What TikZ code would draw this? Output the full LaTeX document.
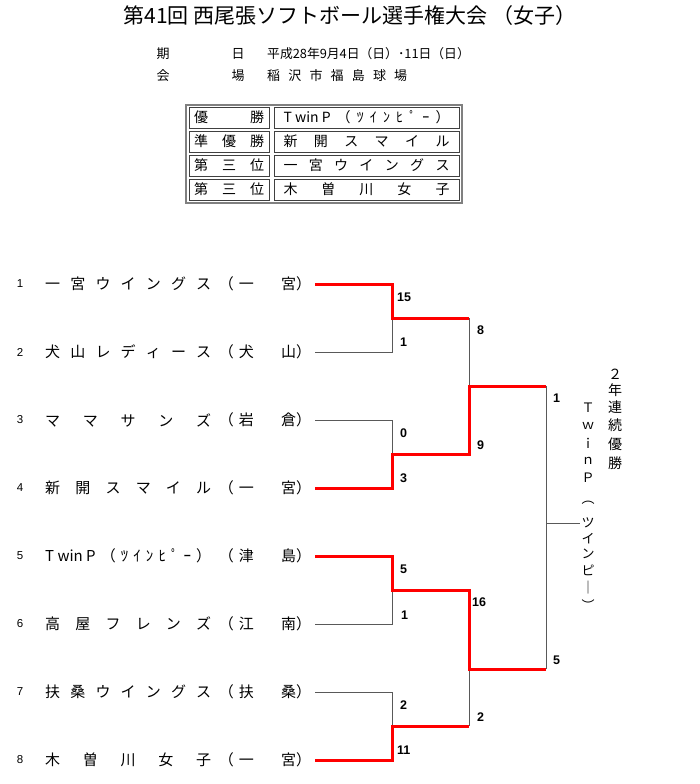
\documentclass[tikz,border=0pt]{standalone}
\usepackage{fontspec}
\setmainfont{Liberation Sans}
\newfontfamily\jp{Noto Sans CJK JP}
\usetikzlibrary{positioning}
\newcommand{\fs}[1]{\fontsize{#1}{#1}\selectfont}

\begin{document}
\begin{tikzpicture}[x=1pt,y=-1pt,
  win/.style={red,line width=3pt},
  lose/.style={black!65,line width=1pt},
  score/.style={font=\fs{12.5}\bfseries,anchor=west,inner sep=0pt},
  jtext/.style={font=\jp\fs{15},inner sep=0pt},
  cell/.style={draw=black!75,line width=0.8pt,minimum height=21pt,inner sep=0pt,font=\jp\fs{14}},
  vtext/.style={font=\jp\fs{14},inner sep=0pt}]
\useasboundingbox (0,0) rectangle (700,784);

\node[font=\jp\fs{21},inner sep=0pt] (title) at (350,16) {第41回 西尾張ソフトボール選手権大会 （女子）};
\node[jtext,font=\jp\fs{13}] (kiLab) at (163,54) {期};
\node[jtext,font=\jp\fs{13}] (hiLab) at (238,54) {日};
\node[jtext,font=\jp\fs{12.8},anchor=west] (date) at (267,54) {平成28年9月4日（日）･11日（日）};
\node[jtext,font=\jp\fs{13}] (kaiLab) at (163,76) {会};
\node[jtext,font=\jp\fs{13}] (joLab) at (238,76) {場};
\node[jtext,font=\jp\fs{13},anchor=west] (venue) at (267,76) {\makebox[140pt]{稲\hfill 沢\hfill 市\hfill 福\hfill 島\hfill 球\hfill 場}};

% Result table.
\draw[gray,line width=1.5pt] (186,105) rectangle (462,203);
\foreach \lab/\team [count=\i] in {
  {優\hfill 勝}/{T win P\hfill（\hfill ﾂ\hfill ｲ\hfill ﾝ\hfill ﾋ\hfill ﾟ\hfill ｰ\hfill ）},
  {準\hfill 優\hfill 勝}/{新\hfill 開\hfill ス\hfill マ\hfill イ\hfill ル},
  {第\hfill 三\hfill 位}/{一\hfill 宮\hfill ウ\hfill イ\hfill ン\hfill グ\hfill ス},
  {第\hfill 三\hfill 位}/{木\hfill 曽\hfill 川\hfill 女\hfill 子}}{
  \node[cell,minimum width=80pt] (rank\i) at (229,117.5+24*\i-24) {\makebox[70pt]{\lab}};
  \node[cell,minimum width=185pt] (place\i) at (366.5,117.5+24*\i-24) {\makebox[166pt]{\team}};
}

% Teams.
\foreach \y/\n/\name/\ca/\cb in {
  284/1/{一\hfill 宮\hfill ウ\hfill イ\hfill ン\hfill グ\hfill ス}/一/宮,
  352/2/{犬\hfill 山\hfill レ\hfill デ\hfill ィ\hfill ー\hfill ス}/犬/山,
  420/3/{マ\hfill マ\hfill サ\hfill ン\hfill ズ}/岩/倉,
  488/4/{新\hfill 開\hfill ス\hfill マ\hfill イ\hfill ル}/一/宮,
  556/5/{T win P\hfill（\hfill ﾂ\hfill ｲ\hfill ﾝ\hfill ﾋ\hfill ﾟ\hfill ｰ\hfill ）}/津/島,
  624/6/{高\hfill 屋\hfill フ\hfill レ\hfill ン\hfill ズ}/江/南,
  692/7/{扶\hfill 桑\hfill ウ\hfill イ\hfill ン\hfill グ\hfill ス}/扶/桑,
  760/8/{木\hfill 曽\hfill 川\hfill 女\hfill 子}/一/宮}{
  \node[font=\fs{11.5},inner sep=0pt] (num\n) at (20,\y) {\n};
  \node[jtext,anchor=west] (team\n) at (45,\y) {\makebox[166pt]{\name}};
  \node[jtext,anchor=east] (ca\n) at (254,\y) {（\hspace{5pt}\ca};
  \node[jtext,anchor=west] (cb\n) at (281,\y) {\cb）};
  \coordinate (t\n) at (315,\y);
}

\coordinate (q1) at (392,318);
\coordinate (q2) at (392,454);
\coordinate (q3) at (392,590);
\coordinate (q4) at (392,726);
\coordinate (h1) at (469,386);
\coordinate (h2) at (469,669);
\coordinate (f1) at (546,386);
\coordinate (f2) at (546,669);
\coordinate (fm) at (546,523);
\coordinate (fe) at (580,523);

\draw[lose] (t2) -| (q1);
\draw[lose] (t3) -| (q2);
\draw[lose] (t6) -| (q3);
\draw[lose] (t7) -| (q4);
\draw[lose] (q1 -| h1) -- (h1);
\draw[lose] (q4 -| h2) -- (h2);
\draw[lose] (f1) -- (f2);
\draw[lose] (fm) -- (fe);

\draw[win] (t1) -| (q1) -- (q1 -| h1);
\draw[win] (t4) -| (q2) -- (q2 -| h1) -- (h1) -- (f1);
\draw[win] (t5) -| (q3) -- (q3 -| h2) -- (h2) -- (f2);
\draw[win] (t8) -| (q4) -- (q4 -| h2);

% Scores.
\foreach \x/\y/\s [count=\i] in {397/297/15,400/342/1,477/330/8,400/433/0,477/445/9,400/478/3,553/398/1,
  400/569/5,401/615/1,472/602/16,400/705/2,477/717/2,397/750/11,553/660/5}
  \node[score] (s\i) at (\x,\y) {\s};

% Champion, vertical.
\foreach \c/\y [count=\i] in {２/374,年/390,連/407,続/425,優/444,勝/463}
  \node[vtext] (streak\i) at (615,\y) {\c};
\foreach \c/\y [count=\i] in {Ｔ/408,ｗ/426,ｉ/443,ｎ/461,Ｐ/478,︵/503,ツ/523,イ/539,ン/554,ピ/570,｜/588,︶/605}
  \node[vtext,font=\jp\fs{13}] (tw\i) at (588,\y) {\c};
\end{tikzpicture}
\end{document}
